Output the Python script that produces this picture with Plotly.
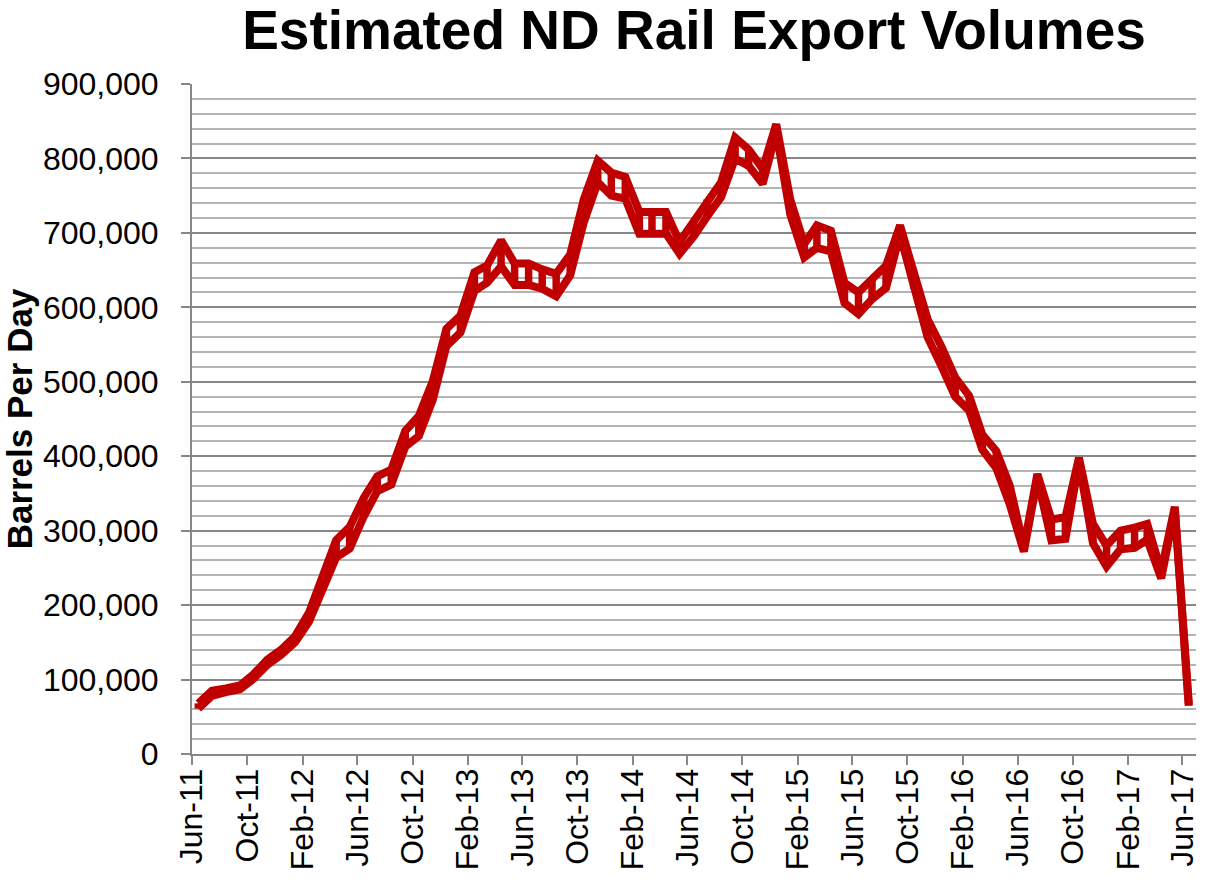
"""Estimated ND Rail Export Volumes - Excel style line chart"""

import pandas as pd
import plotly.graph_objects as go

# monthly points, Jun-11 .. Jun-17 (plotted mid-month)
months = pd.date_range('2011-06-01', '2017-06-01', freq='MS') + pd.Timedelta(days=14)

# two estimates (barrels per day)
high_est = [
    68000, 85000, 88000, 92000, 107000, 127000, 140000, 158000, 190000, 236000,
    287000, 305000, 344000, 373000, 382000, 434000, 454000, 501000, 571000, 589000,
    647000, 656000, 690000, 659000, 659000, 651000, 645000, 671000, 745000, 797000,
    781000, 775000, 728000, 728000, 728000, 688000, 715000, 745000, 768000, 828000,
    812000, 786000, 846000, 745000, 685000, 710000, 703000, 633000, 620000, 638000,
    656000, 710000, 650000, 584000, 548000, 506000, 481000, 429000, 407000, 360000,
    278000, 376000, 315000, 318000, 398000, 309000, 280000, 300000, 304000, 309000,
    245000, 332000, 67000,
]
low_est = [
    61000, 78000, 83000, 87000, 101000, 120000, 133000, 150000, 178000, 222000,
    264000, 276000, 319000, 353000, 362000, 413000, 427000, 476000, 548000, 566000,
    622000, 633000, 655000, 630000, 630000, 625000, 615000, 643000, 714000, 768000,
    750000, 746000, 699000, 699000, 699000, 672000, 695000, 722000, 748000, 800000,
    790000, 766000, 836000, 725000, 667000, 680000, 675000, 606000, 591000, 611000,
    626000, 698000, 625000, 560000, 522000, 480000, 461000, 409000, 384000, 335000,
    272000, 370000, 287000, 289000, 392000, 283000, 252000, 275000, 277000, 288000,
    236000, 328000, 65000,
]

RED = '#C00000'
FONT = 'Arial, Liberation Sans, sans-serif'
GRID_MAJOR = '#878787'
GRID_MINOR = '#b4b4b4'

fig = go.Figure()

# high-low lines between the two series (like Excel)
hl_x, hl_y = [], []
for d, hi, lo in zip(months, high_est, low_est):
    hl_x += [d, d, None]
    hl_y += [lo, hi, None]
fig.add_trace(go.Scatter(x=hl_x, y=hl_y, mode='lines', line={'color': RED, 'width': 7.5},
                         hoverinfo='skip', showlegend=False))

for name, vals in [('High', high_est), ('Low', low_est)]:
    fig.add_trace(
        go.Scatter(
            x=months,
            y=vals,
            mode='lines',
            name=name,
            line={'color': RED, 'width': 8},
            showlegend=False,
        )
    )

fig.update_layout(
    width=1223,
    height=884,
    margin={'l': 192, 'r': 27, 't': 84, 'b': 130},
    paper_bgcolor='white',
    plot_bgcolor='white',
    font={'family': FONT, 'color': 'black'},
    title={
        'text': '<b>Estimated ND Rail Export Volumes</b>',
        'x': 0.5,
        'xref': 'paper',
        'xanchor': 'center',
        'y': 0.966,
        'yref': 'container',
        'yanchor': 'middle',
        'font': {'size': 55, 'family': FONT, 'color': 'black'},
    },
    showlegend=False,
)

fig.update_yaxes(
    range=[0, 900000],
    dtick=100000,
    tickformat=',',
    tickfont={'size': 32},
    ticks='outside',
    ticklen=9,
    tickwidth=2,
    tickcolor=GRID_MAJOR,
    ticklabelstandoff=16,
    showline=True,
    linecolor=GRID_MAJOR,
    linewidth=2,
    showgrid=True,
    gridcolor=GRID_MAJOR,
    gridwidth=2,
    zeroline=False,
    automargin=False,
    minor={'dtick': 20000, 'showgrid': True, 'gridcolor': GRID_MINOR, 'gridwidth': 1.6},
    title={'text': '<b>Barrels Per Day</b>', 'font': {'size': 35}, 'standoff': 5},
)

fig.update_xaxes(
    type='date',
    range=['2011-06-01', '2017-07-01'],
    tick0='2011-06-01',
    dtick='M4',
    tickformat='%b-%y',
    tickangle=-90,
    tickfont={'size': 32},
    ticks='outside',
    ticklen=9,
    tickwidth=2,
    tickcolor=GRID_MAJOR,
    ticklabelstandoff=-9,
    showline=True,
    linecolor=GRID_MAJOR,
    linewidth=2,
    showgrid=False,
    zeroline=False,
    automargin=False,
)

# drop the default page margin so the figure sits at the window's corner
fig.write_html(
    'out.html',
    config={'displayModeBar': False},
    post_script="document.body.style.margin='0';",
)
